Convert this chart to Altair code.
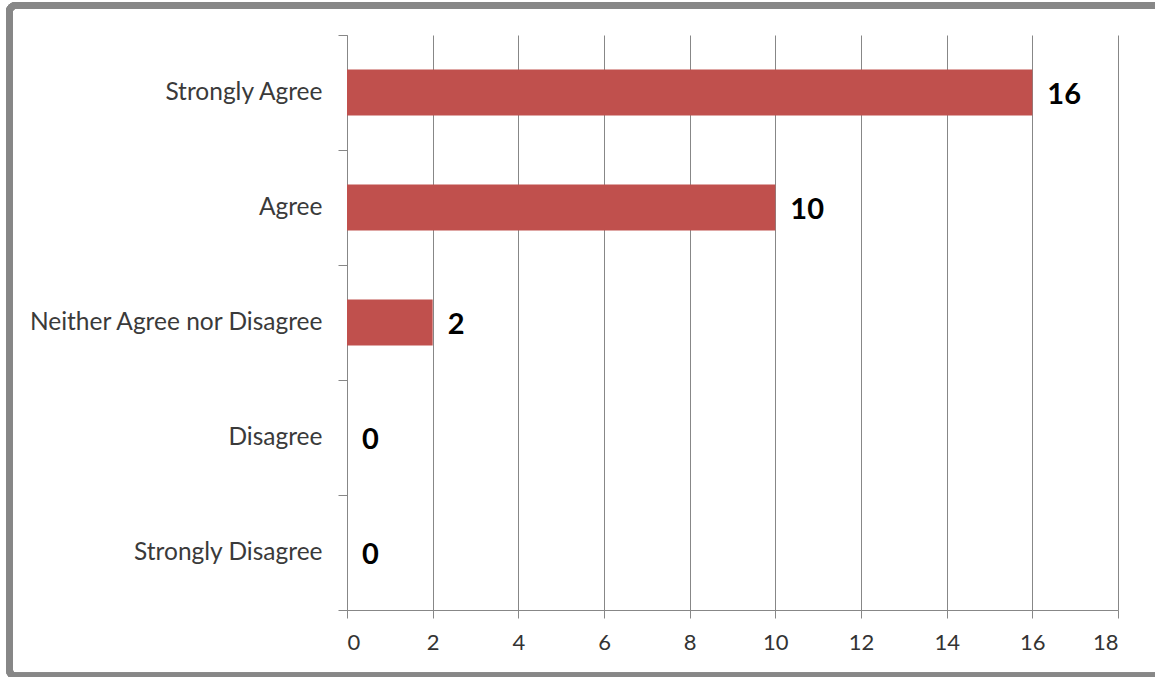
import altair as alt
import pandas as pd

categories = ["Strongly Agree", "Agree", "Neither Agree nor Disagree", "Disagree", "Strongly Disagree"]
counts = [16, 10, 2, 0, 0]
x_ticks = [0, 2, 4, 6, 8, 10, 12, 14, 16, 18]

df = pd.DataFrame({"category": categories, "count": counts})

W, H = 771, 575
GRAY = "#878787"

x_enc = alt.X("count:Q", scale=alt.Scale(domain=[0, 18], nice=False),
              axis=alt.Axis(values=x_ticks, title=None, grid=True, gridColor=GRAY, gridWidth=1,
                            domainColor=GRAY, tickColor=GRAY, tickSize=8, labelPadding=14,
                            labelFont="Lato", labelFontSize=22, labelColor="#333333"))
y_enc = alt.Y("category:N", sort=categories, scale=alt.Scale(paddingInner=0, paddingOuter=0),
              axis=alt.Axis(title=None, tickBand="extent", grid=False, domainColor=GRAY, tickColor=GRAY,
                            tickSize=9, labelPadding=16, labelFont="Lato", labelFontSize=24.5,
                            labelColor="#3a3a3a", labelLimit=400))

bars = alt.Chart(df).mark_bar(color="#C0504D", height={"band": 0.4}).encode(x=x_enc, y=y_enc)
labels = alt.Chart(df).mark_text(align="left", baseline="middle", dx=15, dy=2,
                                 font="Lato", fontSize=29, fontWeight="bold", color="black").encode(
    x="count:Q", y=alt.Y("category:N", sort=categories), text="count:Q")

frame = alt.Chart(df).mark_rect(fill=None, stroke=GRAY, strokeWidth=7, cornerRadius=6, clip=False).encode(
    x=alt.value(-337.5), x2=alt.value(W + 150), y=alt.value(-29.5), y2=alt.value(H + 66))

chart = alt.layer(bars, labels, frame).properties(
    width=W, height=H,
    padding={"left": 347, "top": 35, "right": 37, "bottom": 67},
    autosize=alt.AutoSizeParams(type="none"),
    background="white",
).configure_view(stroke=None)

chart.save("out.html", embed_options={"renderer": "svg", "actions": False})
